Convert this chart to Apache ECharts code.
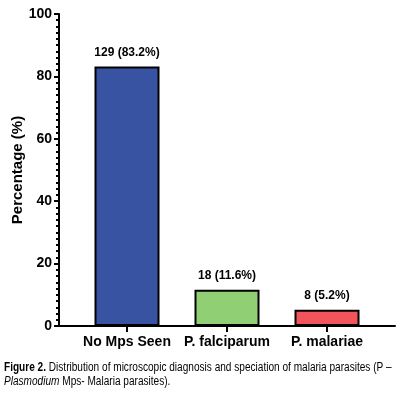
<!DOCTYPE html>
<html><head><meta charset="utf-8">
<script src="https://cdn.jsdelivr.net/npm/echarts@6/dist/echarts.min.js"></script>
<style>html,body{margin:0;padding:0;background:#fff}#c{width:406px;height:394px}</style>
</head><body><div id="c"></div>
<script>
const categories = ['No Mps Seen', 'P. falciparum', 'P. malariae'];
const percentages = [83.2, 11.6, 5.2];
const counts = [129, 18, 8];
const barColors = ['#3953A3', '#91CF74', '#F1555B'];
const yTicks = [0, 20, 40, 60, 80, 100];

const chart = echarts.init(document.getElementById('c'));
const font = '"Liberation Sans", Arial, sans-serif';
chart.setOption({
  animation: false,
  grid: [
    {left: 59, right: 11, top: 14, bottom: 68, containLabel: false, outerBoundsMode: 'none'},
    {left: 77, right: 29, top: 14, bottom: 68, containLabel: false, outerBoundsMode: 'none'}
  ],
  xAxis: [
    {gridIndex: 0, type: 'value', min: 0, max: 1,
     axisLine: {show: true, lineStyle: {color: '#000', width: 2}},
     axisTick: {show: false}, axisLabel: {show: false}, splitLine: {show: false}},
    {gridIndex: 1, type: 'category', data: categories,
     axisLine: {show: false},
     axisTick: {show: true, alignWithLabel: true, length: 6, lineStyle: {color: '#000', width: 2}},
     axisLabel: {color: '#000', fontWeight: 'bold', fontSize: 14, fontFamily: font, margin: 9,
                 interval: 0, hideOverlap: false}}
  ],
  yAxis: [
    {gridIndex: 0, type: 'value', min: yTicks[0], max: yTicks[yTicks.length-1], interval: 20,
     name: 'Percentage (%)', nameLocation: 'middle', nameGap: 34, nameMoveOverlap: false,
     nameTextStyle: {color: '#000', fontWeight: 'bold', fontSize: 15, fontFamily: font},
     axisLine: {show: true, lineStyle: {color: '#000', width: 2}},
     axisTick: {show: true, length: 5, lineStyle: {color: '#000', width: 2}},
     minorTick: {show: true, splitNumber: 10, length: 3, lineStyle: {color: '#000', width: 2}},
     axisLabel: {color: '#000', fontWeight: 'bold', fontSize: 14, fontFamily: font, margin: 7},
     splitLine: {show: false}},
    {gridIndex: 1, type: 'value', min: 0, max: 100, show: false}
  ],
  series: [{
    type: 'bar', xAxisIndex: 1, yAxisIndex: 1, barWidth: 65,
    data: percentages.map((v, i) => ({value: v, itemStyle: {color: barColors[i]}})),
    itemStyle: {borderColor: '#000', borderWidth: 2},
    label: {show: true, position: 'top', distance: 8, color: '#000', fontWeight: 'bold',
            fontSize: 12, fontFamily: font,
            formatter: p => counts[p.dataIndex] + ' (' + percentages[p.dataIndex] + '%)'}
  }],
  graphic: [{
    type: 'text', x: 4, y: 361, scaleX: 0.84,
    style: {
      text: '{b|Figure 2.} Distribution of microscopic diagnosis and speciation of malaria parasites (P –\n{i|Plasmodium} Mps- Malaria parasites).',
      font: '12px "Liberation Sans", Arial, sans-serif',
      fill: '#000', lineHeight: 14,
      rich: {
        b: {fontWeight: 'bold', fontSize: 12, fontFamily: font, lineHeight: 14},
        i: {fontStyle: 'italic', fontSize: 12, fontFamily: font, lineHeight: 14}
      }
    }
  }]
});
</script></body></html>
